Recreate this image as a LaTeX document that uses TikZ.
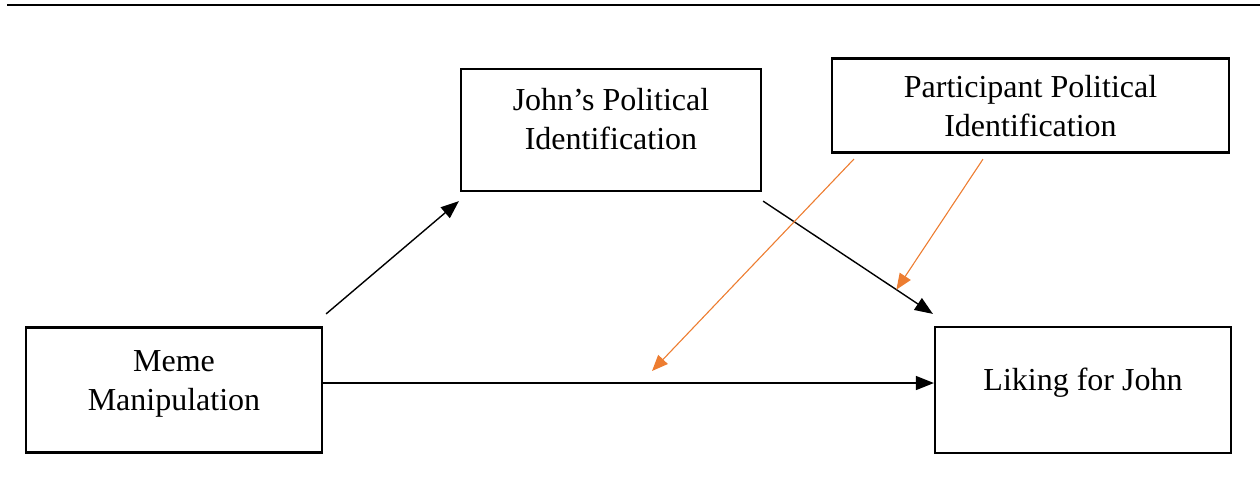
\documentclass[tikz,border=0pt]{standalone}
\usepackage{fontspec}
\setmainfont{Liberation Serif}
\usetikzlibrary{arrows.meta, calc}
\definecolor{modorange}{HTML}{ED7D31}

\begin{document}
\begin{tikzpicture}[
    x=0.5pt, y=-0.5pt,
    every node/.style={font=\fontsize{16}{19.5}\selectfont},
    box/.style={draw, line width=1.1pt, align=center, inner sep=2pt},
    path/.style={-{Triangle[length=9pt,width=7pt]}, line width=0.7pt},
    moderation/.style={-{Triangle[length=8pt,width=6.5pt]}, line width=0.55pt, draw=modorange}
  ]

  \useasboundingbox (0,0) rectangle (1260,479);
  \draw[line width=1.3pt] (7,5) -- (1260,5);

  % variables
  \node[box, minimum width=148pt, minimum height=62.5pt, text depth=9.9pt] (meme) at (174,390) {Meme\\Manipulation};
  \node[box, minimum width=150pt, minimum height=61pt, text depth=11pt] (johnpol) at (611,130) {John’s Political\\Identification};
  \node[box, minimum width=198.5pt, minimum height=47pt, text depth=0pt] (partpol) at (1030.5,105.5) {Participant Political\\Identification};
  \node[box, minimum width=148pt, minimum height=63pt, text depth=11pt] (liking) at (1083,390) {Liking for John};

  % paths
  \coordinate (jp start) at ([shift={(1,9)}]johnpol.south east);
  \coordinate (jp end) at ([shift={(-1,-12)}]liking.north west);
  \coordinate (direct mid) at (652,371);

  \draw[path] ([shift={(3,-12.5)}]meme.north east) -- ([shift={(-1,9)}]johnpol.south west);
  \draw[path] (jp start) -- (jp end);
  \draw[path] ([shift={(0,-7)}]meme.east) -- ([shift={(0,-7)}]liking.west);

  % moderation
  \draw[moderation] ([shift={(23,5.5)}]partpol.south west) -- (direct mid);
  \draw[moderation] ([shift={(-47.5,5.5)}]partpol.south) -- ($(jp start)!0.785!(jp end)$);

\end{tikzpicture}
\end{document}
